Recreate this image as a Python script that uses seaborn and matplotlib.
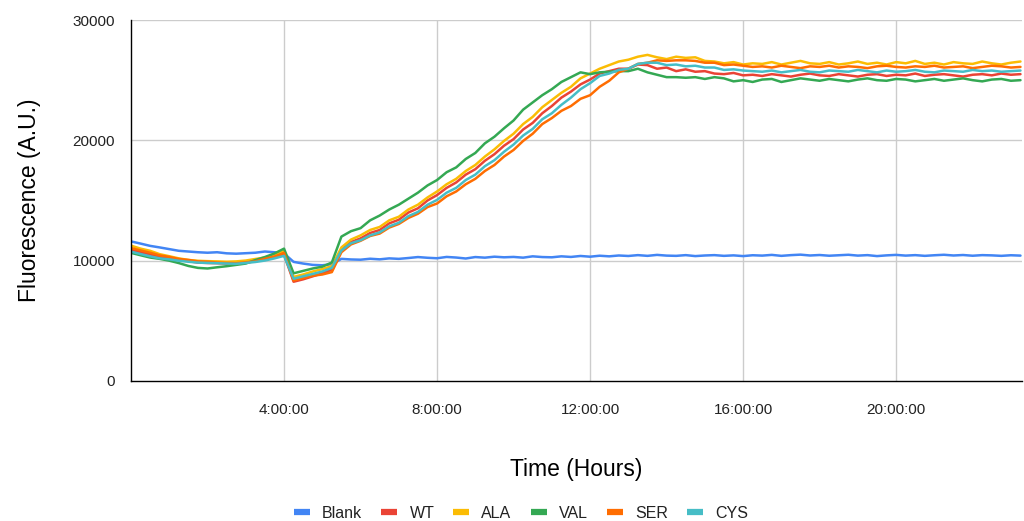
import numpy as np
import pandas as pd
import matplotlib
matplotlib.use("Agg")
import matplotlib.pyplot as plt
from matplotlib.lines import Line2D
import seaborn as sns

# Plate-reader fluorescence, one reading every 15 minutes (hours 0 to 23.25)
STEP_H = 0.25

blank = [11600, 11420, 11230, 11100, 10960, 10820, 10760, 10700, 10660, 10700, 10610, 10580, 10620, 10660, 10760, 10700, 10600,
         9900, 9760, 9650, 9620, 9700,
         10150, 10100, 10080, 10160, 10110, 10190, 10150, 10220, 10300, 10240, 10200, 10310, 10260, 10180, 10300, 10250, 10330,
         10280, 10310, 10250, 10360, 10300, 10280, 10360, 10310, 10390, 10330, 10410, 10360, 10430, 10390, 10460, 10400, 10480,
         10420, 10400, 10460, 10380, 10430, 10460, 10400, 10440, 10380,
         10450, 10420, 10480, 10400, 10460, 10500, 10430, 10470, 10410, 10450, 10490, 10420, 10460, 10380, 10440, 10480, 10420,
         10460, 10400, 10450, 10490, 10430, 10470, 10410, 10460, 10440, 10400, 10450, 10420]

wt = [10900, 10700, 10520, 10330, 10220, 10080, 9960, 9840, 9810, 9790, 9760, 9800, 9860, 9940, 10110, 10290, 10500,
      8250, 8450, 8700, 8950, 9250,
      10900, 11550, 11850, 12300, 12550, 13100, 13400, 14000, 14350, 15000, 15450, 16050, 16500, 17150, 17600, 18300, 18850,
      19550, 20100, 20900, 21450, 22250, 22850, 23550, 24050, 24650, 25050, 25550, 25750, 25950, 25950, 26300, 26250, 25950,
      26050, 25750, 25900, 25700, 25750, 25550, 25500, 25600, 25400,
      25450, 25350, 25500, 25400, 25300, 25450, 25550, 25400, 25350, 25500, 25400, 25300, 25450, 25500, 25350, 25450, 25400,
      25550, 25350, 25450, 25500, 25400, 25300, 25450, 25500, 25400, 25550, 25450, 25500]

ala = [11250, 11000, 10820, 10540, 10370, 10190, 10060, 9990, 9960, 9940, 9910, 9940, 10010, 10140, 10260, 10490, 10800,
       8650, 8850, 9100, 9300, 9550,
       11100, 11750, 12100, 12550, 12800, 13350, 13650, 14250, 14650, 15250, 15750, 16350, 16800, 17450, 17950, 18650, 19250,
       19950, 20550, 21350, 21950, 22750, 23350, 23950, 24450, 25150, 25550, 25950, 26250, 26550, 26700, 26950, 27100, 26900,
       26750, 26950, 26850, 26900, 26600, 26550, 26400, 26500, 26300,
       26400, 26350, 26500, 26300, 26450, 26600, 26400, 26350, 26500, 26300, 26400, 26550, 26350, 26450, 26300, 26500, 26400,
       26600, 26350, 26450, 26300, 26500, 26400, 26350, 26550, 26400, 26300, 26450, 26550]

val = [10650, 10450, 10260, 10150, 10000, 9800, 9560, 9400, 9350, 9450, 9540, 9650, 9760, 10050, 10300, 10600, 11000,
       8950, 9150, 9350, 9500, 9850,
       12000, 12450, 12700, 13350, 13750, 14250, 14650, 15150, 15650, 16250, 16700, 17350, 17750, 18450, 18950, 19750, 20300,
       21000, 21650, 22550, 23150, 23750, 24250, 24850, 25250, 25650, 25500, 25650, 25700, 25750, 25750, 25950, 25650, 25450,
       25250, 25250, 25200, 25250, 25100, 25250, 25150, 24900, 25000,
       24850, 25050, 25100, 24850, 25000, 25150, 25050, 24950, 25100, 25000, 24900, 25050, 25150, 25000, 24950, 25100, 25050,
       24900, 25000, 25100, 24950, 25050, 25150, 25000, 24900, 25050, 25100, 24950, 25000]

ser = [11050, 10850, 10660, 10440, 10310, 10140, 10060, 9940, 9910, 9840, 9810, 9790, 9860, 9940, 10160, 10340, 10650,
       8350, 8550, 8750, 8850, 9050,
       10700, 11350, 11650, 12050, 12250, 12750, 13050, 13550, 13900, 14450, 14750, 15350, 15750, 16350, 16800, 17450, 17950,
       18650, 19200, 19950, 20550, 21350, 21850, 22450, 22850, 23450, 23750, 24450, 24950, 25650, 25950, 26350, 26450, 26650,
       26600, 26650, 26650, 26600, 26450, 26450, 26250, 26300, 26200,
       26100, 26150, 26050, 26200, 26100, 26000, 26150, 26100, 26200, 26050, 26150, 26100, 26000, 26150, 26200, 26100, 26050,
       26150, 26100, 26200, 26050, 26100, 26150, 26000, 26100, 26200, 26150, 26050, 26100]

cys = [10750, 10550, 10360, 10190, 10110, 9990, 9910, 9840, 9810, 9790, 9760, 9740, 9810, 9890, 10010, 10190, 10400,
       8500, 8700, 8900, 9100, 9400,
       10850, 11450, 11700, 12100, 12350, 12850, 13150, 13700, 14050, 14650, 15050, 15650, 16050, 16700, 17150, 17850, 18350,
       19050, 19650, 20400, 20950, 21750, 22250, 22950, 23550, 24250, 24750, 25350, 25550, 25850, 25950, 26350, 26450, 26450,
       26250, 26300, 26150, 26200, 26050, 26050, 25850, 25900, 25800,
       25750, 25700, 25800, 25650, 25750, 25850, 25700, 25650, 25800, 25750, 25700, 25850, 25750, 25650, 25800, 25700, 25750,
       25850, 25700, 25650, 25800, 25750, 25700, 25850, 25750, 25800, 25700, 25750, 25800]

samples = ["Blank", "WT", "ALA", "VAL", "SER", "CYS"]
series = [blank, wt, ala, val, ser, cys]
colors = ["#4285F4", "#EA4335", "#FBBC04", "#34A853", "#FF6D01", "#46BDC6"]

tick_hours = [4, 8, 12, 16, 20]
tick_labels = ["4:00:00", "8:00:00", "12:00:00", "16:00:00", "20:00:00"]
y_ticks = [0, 10000, 20000, 30000]

n = len(blank)
assert all(len(s) == n for s in series)
hours = np.arange(n) * STEP_H

frames = [pd.DataFrame({"Time": hours, "Fluorescence": vals, "Sample": name})
          for name, vals in zip(samples, series)]
df = pd.concat(frames, ignore_index=True)

sns.set_theme(style="white")
plt.rcParams["font.family"] = ["Liberation Sans", "DejaVu Sans"]

W, H = 1024, 521
fig = plt.figure(figsize=(W / 100, H / 100), dpi=100)
ax = fig.add_axes([131 / W, (H - 381) / H, (1022 - 131) / W, (381 - 20) / H])

ax.set_axisbelow(True)
for h in tick_hours:
    ax.axvline(h, color="#cccccc", lw=1.0, zorder=0)
for v in y_ticks[1:]:
    ax.axhline(v, color="#cccccc", lw=1.0, zorder=0)

palette = dict(zip(samples, colors))
sns.lineplot(data=df, x="Time", y="Fluorescence", hue="Sample", hue_order=samples,
             palette=palette, linewidth=1.8, legend=False, ax=ax, estimator=None)

ax.set_xlim(0, hours[-1] + 0.04)
ax.set_ylim(0, 30000)
ax.set_xticks(tick_hours)
ax.set_xticklabels(tick_labels)
ax.set_yticks(y_ticks)
ax.set_yticklabels([str(v) for v in y_ticks])

for side in ["top", "right"]:
    ax.spines[side].set_visible(False)
for side in ["left", "bottom"]:
    ax.spines[side].set_color("black")
    ax.spines[side].set_linewidth(1.0)

ax.tick_params(axis="both", direction="inout", length=11, width=1.0, color="black",
               labelsize=11, labelcolor="#222222")
ax.tick_params(axis="x", pad=10)
ax.tick_params(axis="y", pad=6)

ax.set_xlabel("Time (Hours)", fontsize=16.5, color="black", labelpad=30)
ax.set_ylabel("Fluorescence (A.U.)", fontsize=16.5, color="black", labelpad=23)

handles = [Line2D([0], [0], color=c, lw=4.5, solid_capstyle="butt") for c in colors]
fig.legend(handles, samples, loc="center", bbox_to_anchor=(521 / W, (H - 513) / H), ncol=6,
           frameon=False, fontsize=11.5, handlelength=1.0, handletextpad=0.75,
           columnspacing=1.2, labelcolor="#222222")

fig.savefig("out.png", dpi=100)
